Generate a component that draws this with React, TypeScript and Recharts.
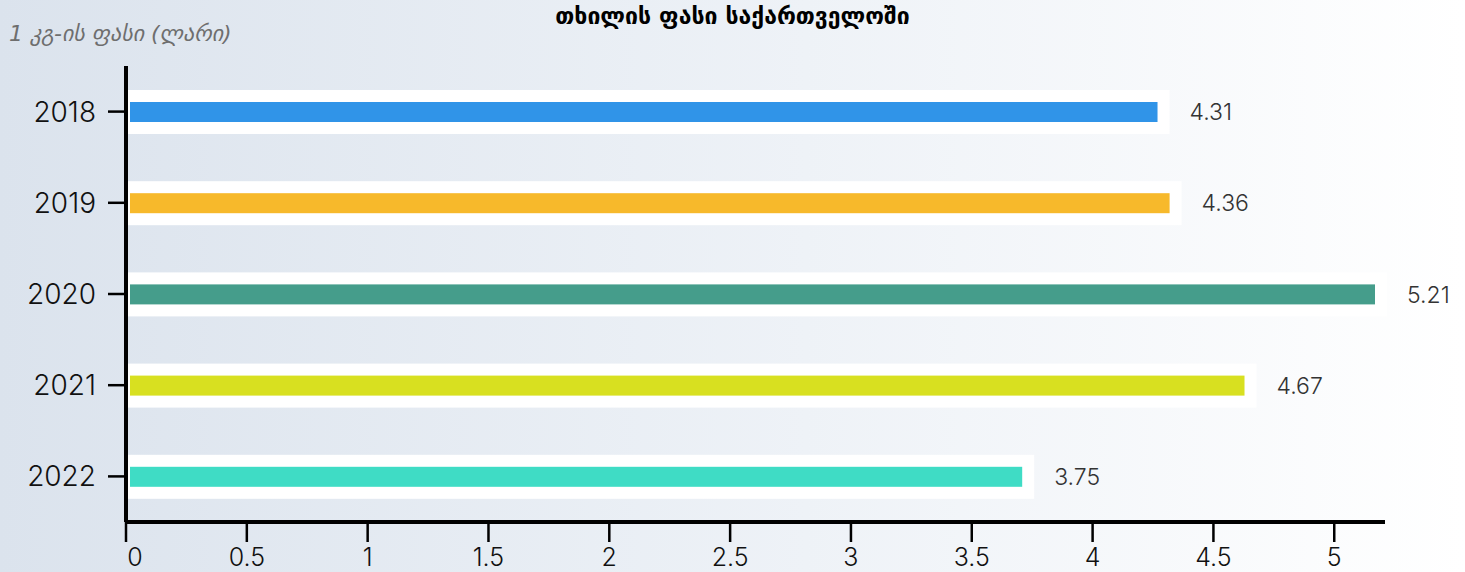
import { BarChart, Bar, XAxis, YAxis, Cell, LabelList } from 'recharts'

const YEARS = ['2018', '2019', '2020', '2021', '2022']
const PRICES = [4.31, 4.36, 5.21, 4.67, 3.75]
const COLORS = ['#3094e8', '#f7b92b', '#459d8b', '#d8e020', '#3fdcc5']
const X_TICKS = [0, 0.5, 1, 1.5, 2, 2.5, 3, 3.5, 4, 4.5, 5]

const TITLE = 'თხილის ფასი საქართველოში'
const UNIT_LABEL = '1 კგ-ის ფასი (ლარი)'

const data = YEARS.map((year, i) => ({ year, price: PRICES[i], color: COLORS[i] }))

// white plate behind a thinner coloured bar
function PlateBar(props: any) {
  const { x, y, width, height, fill } = props
  const inner = 20
  const cy = y + height / 2
  return (
    <g>
      <rect x={x} y={y} width={width + 2} height={height} fill="#ffffff" />
      <rect x={x + 4} y={cy - inner / 2} width={Math.max(width - 14, 0)} height={inner} fill={fill} />
    </g>
  )
}

// first label sits a little to the right of its tick, like the original
function XTick(props: any) {
  const { x, y, payload } = props
  const dx = payload.value === 0 ? 9 : 0
  return (
    <text x={x + dx} y={y} dy="0.71em" textAnchor="middle" fill="#111" fontSize={25} fontWeight={300}>
      {payload.value}
    </text>
  )
}

export default function App() {
  return (
    <div
      style={{
        position: 'absolute',
        left: 0,
        top: 0,
        width: 1465,
        height: 572,
        background: 'linear-gradient(to right, #dbe3ed 0%, #eef2f7 55%, #ffffff 100%)',
        fontFamily: 'Inter, sans-serif',
      }}
    >
      <div
        style={{
          position: 'absolute',
          top: 3,
          left: 0,
          width: 1465,
          textAlign: 'center',
          fontFamily: '"DejaVu Sans", sans-serif',
          fontWeight: 'bold',
          fontSize: 23,
          color: '#000',
        }}
      >
        {TITLE}
      </div>
      <div
        style={{
          position: 'absolute',
          top: 21,
          left: 9,
          fontFamily: '"DejaVu Sans", sans-serif',
          fontStyle: 'italic',
          fontSize: 22,
          color: '#6e6e6e',
        }}
      >
        {UNIT_LABEL}
      </div>
      <BarChart
        width={1465}
        height={572}
        data={data}
        layout="vertical"
        margin={{ top: 66, right: 80, bottom: 10, left: 26 }}
        barCategoryGap={0}
      >
        <XAxis
          type="number"
          domain={[0, 5.21]}
          ticks={X_TICKS}
          height={40}
          stroke="#000"
          strokeWidth={4}
          tickSize={20}
          tickMargin={6}
          tickLine={{ stroke: '#000', strokeWidth: 2.5 }}
          tick={<XTick />}
          interval={0}
        />
        <YAxis
          type="category"
          dataKey="year"
          width={100}
          stroke="#000"
          strokeWidth={4}
          tickSize={18}
          tickMargin={12}
          tickLine={{ stroke: '#000', strokeWidth: 2.5 }}
          tick={{ fill: '#111', fontSize: 28, fontWeight: 300 }}
        />
        <Bar dataKey="price" barSize={44} shape={<PlateBar />} isAnimationActive={false}>
          {data.map((d, i) => (
            <Cell key={i} fill={d.color} />
          ))}
          <LabelList dataKey="price" position="right" offset={22} fill="#333" fontSize={23} fontWeight={300} />
        </Bar>
      </BarChart>
    </div>
  )
}
